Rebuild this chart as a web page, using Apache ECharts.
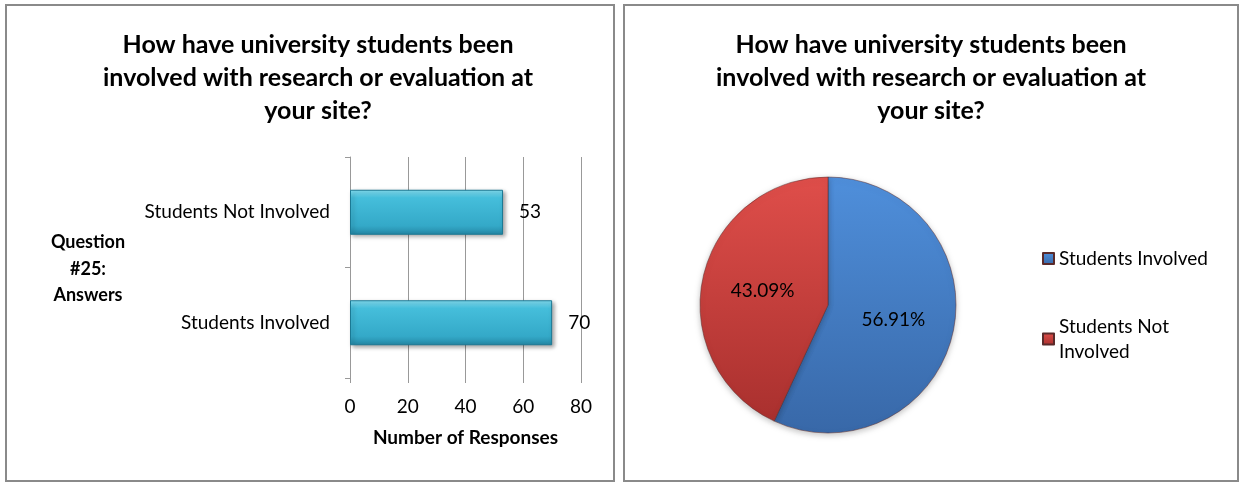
<!DOCTYPE html>
<html>
<head>
<meta charset="utf-8">
<script src="https://cdn.jsdelivr.net/npm/echarts@6/dist/echarts.min.js"></script>
<style>
  html, body { margin: 0; padding: 0; background: #fff; }
  #main { width: 1244px; height: 485px; }
</style>
</head>
<body>
<div id="main"></div>
<script>
// data
var categories = ['Students Involved', 'Students Not Involved']
var responses = [70, 53]
var xTicks = [0, 20, 40, 60, 80]
var titleText = 'How have university students been\ninvolved with research or evaluation at\nyour site?'
var fontName = 'Lato, "Open Sans", sans-serif'

var chart = echarts.init(document.getElementById('main'))

// bar style with a bevel look
var barColor = new echarts.graphic.LinearGradient(0, 0, 0, 1, [
  { offset: 0, color: '#86e3f7' },
  { offset: 0.18, color: '#45bedb' },
  { offset: 0.8, color: '#34a9c8' },
  { offset: 1, color: '#2487a5' }
])
var blueColor = new echarts.graphic.LinearGradient(0, 0, 0, 1, [
  { offset: 0, color: '#4f8fdb' },
  { offset: 1, color: '#3868a8' }
])
var redColor = new echarts.graphic.LinearGradient(0, 0, 0, 1, [
  { offset: 0, color: '#df4e4a' },
  { offset: 1, color: '#a9302e' }
])

chart.setOption({
  animation: false,
  textStyle: { fontFamily: fontName },
  title: [
    {
      text: titleText,
      left: 313, top: 23, textAlign: 'center',
      textStyle: { fontSize: 25, fontWeight: 'bold', color: '#000', lineHeight: 33, fontFamily: fontName }
    },
    {
      text: titleText,
      left: 926, top: 23, textAlign: 'center',
      textStyle: { fontSize: 25, fontWeight: 'bold', color: '#000', lineHeight: 33, fontFamily: fontName }
    }
  ],
  graphic: [
    { type: 'rect', shape: { x: 6, y: 5, width: 608, height: 476 }, style: { fill: 'none', stroke: '#8a8a8a', lineWidth: 2 } },
    { type: 'rect', shape: { x: 624, y: 5, width: 614, height: 476 }, style: { fill: 'none', stroke: '#8a8a8a', lineWidth: 2 } },
    {
      type: 'text', x: 88, y: 229,
      style: {
        text: 'Question\n#25:\nAnswers', fontSize: 18, fontWeight: 'bold', fill: '#000',
        align: 'center', textAlign: 'center', lineHeight: 26.5, fontFamily: fontName
      }
    }
  ],
  legend: {
    orient: 'vertical',
    left: 1037, top: 241,
    itemWidth: 11, itemHeight: 11,
    itemGap: 43,
    icon: 'rect',
    data: categories,
    formatter: function (name) { return name === 'Students Not Involved' ? 'Students Not\nInvolved' : name },
    textStyle: { fontSize: 19, color: '#000', lineHeight: 25, fontFamily: fontName }
  },
  grid: { left: 350, right: 663, top: 157, bottom: 107 },
  xAxis: {
    type: 'value',
    min: 0, max: 80, interval: 20,
    name: 'Number of Responses',
    nameLocation: 'middle',
    nameGap: 50,
    nameTextStyle: { fontSize: 19, fontWeight: 'bold', color: '#000' },
    axisLine: { show: false },
    axisTick: { show: true, length: 5, lineStyle: { color: '#999' } },
    axisLabel: { fontSize: 19, color: '#000', margin: 19, formatter: function (v) { return xTicks.indexOf(v) >= 0 ? v : '' } },
    splitLine: { show: true, lineStyle: { color: '#999', width: 1 } }
  },
  yAxis: {
    type: 'category',
    data: categories,
    axisLine: { show: true, lineStyle: { color: '#999' } },
    axisTick: { show: true, length: 5, lineStyle: { color: '#999' } },
    axisLabel: { fontSize: 19, color: '#000', margin: 20 }
  },
  series: [
    {
      type: 'bar',
      data: responses,
      barWidth: 45,
      legendHoverLink: false,
      itemStyle: {
        color: barColor,
        borderColor: '#1b7994', borderWidth: 1,
        shadowColor: 'rgba(0,0,0,0.35)', shadowBlur: 4, shadowOffsetX: 2, shadowOffsetY: 2
      },
      label: { show: true, position: 'right', distance: 16, fontSize: 19, color: '#000' }
    },
    {
      type: 'pie',
      center: [828, 305],
      radius: 128,
      startAngle: 90,
      clockwise: true,
      data: [
        { name: categories[0], value: responses[0], itemStyle: { color: blueColor } },
        { name: categories[1], value: responses[1], itemStyle: { color: redColor } }
      ],
      itemStyle: { borderColor: '#5a2a2a', borderWidth: 0.5, shadowColor: 'rgba(0,0,0,0.25)', shadowBlur: 6, shadowOffsetY: 2 },
      label: {
        show: true, position: 'inside', fontSize: 19, color: '#000',
        formatter: function (p) { return p.percent.toFixed(2) + '%' }
      },
      labelLine: { show: false }
    }
  ]
})
</script>
</body>
</html>
